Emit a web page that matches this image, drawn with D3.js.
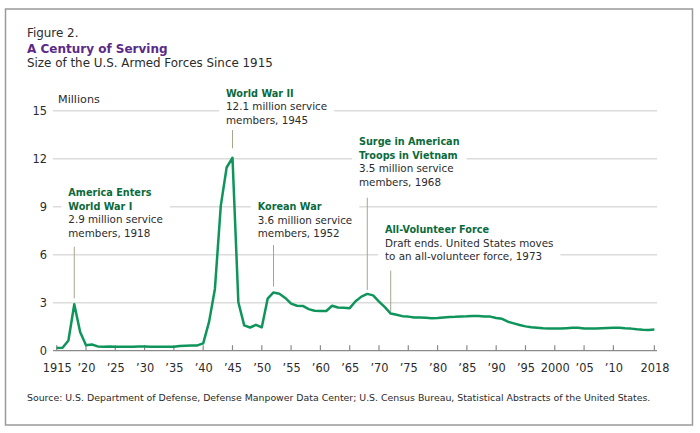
<!DOCTYPE html>
<html><head><meta charset="utf-8">
<script src="https://cdn.jsdelivr.net/npm/d3@7"></script>
<style>
body{margin:0;background:#fff}
svg{display:block}
text{font-family:"DejaVu Sans",sans-serif}
</style>
</head><body>
<svg id="c" width="700" height="433"></svg>
<script>
// ---------- DATA ----------
const years = d3.range(1915, 2017).concat([2018]);
const forces = [
 0.17,0.18,0.64,2.90,1.17,0.34,0.39,0.27,0.25,0.26,
 0.25,0.25,0.25,0.25,0.26,0.26,0.25,0.25,0.24,0.25,
 0.25,0.29,0.31,0.32,0.33,0.46,1.80,3.86,9.05,11.45,
 12.06,3.03,1.58,1.45,1.62,1.46,3.25,3.64,3.56,3.30,
 2.94,2.81,2.80,2.60,2.50,2.48,2.48,2.81,2.70,2.69,
 2.66,3.09,3.38,3.55,3.46,3.07,2.72,2.32,2.25,2.16,
 2.13,2.08,2.07,2.06,2.03,2.05,2.08,2.11,2.12,2.14,
 2.15,2.17,2.17,2.14,2.13,2.04,1.99,1.81,1.71,1.61,
 1.52,1.47,1.44,1.41,1.39,1.38,1.39,1.41,1.43,1.43,
 1.39,1.38,1.38,1.40,1.42,1.43,1.43,1.40,1.38,1.34,
 1.31,1.30,1.32
];
const yTicks = [0, 3, 6, 9, 12, 15];
const xTickYears = [1915,1920,1925,1930,1935,1940,1945,1950,1955,1960,1965,1970,1975,1980,1985,1990,1995,2000,2005,2010,2018];
const xTickLabels = ["1915","\u201920","\u201925","\u201930","\u201935","\u201940","\u201945","\u201950","\u201955","\u201960","\u201965","\u201970","\u201975","\u201980","\u201985","\u201990","\u201995","2000","\u201905","\u201910","2018"];
const annoTitles = [["America Enters","World War I"],["World War II"],["Korean War"],["Surge in American","Troops in Vietnam"],["All-Volunteer Force"]];
const annoBodies = [["2.9 million service","members, 1918"],["12.1 million service","members, 1945"],["3.6 million service","members, 1952"],["3.5 million service","members, 1968"],["Draft ends. United States moves","to an all-volunteer force, 1973"]];
const annoYears = [1918, 1945, 1952, 1968, 1972];

// ---------- LAYOUT ----------
const annoLayout = [
 {x:68.3, y:196,   top:246.7, bottom:298.3},
 {x:226,  y:96.7,  top:130,   bottom:148.3},
 {x:257.7,y:210,   top:245,   bottom:286.7},
 {x:359,  y:145,   top:197.7, bottom:290},
 {x:385,  y:233.3, top:270.7, bottom:311.7}
];
const green = "#0f955b", darkGreen = "#0b6a3c", purple = "#5b2a88", txt = "#2b2b2b";

const svg = d3.select("#c");
svg.append("rect").attr("x",5.5).attr("y",9).attr("width",687).attr("height",416)
  .attr("fill","#fff").attr("stroke","#9a9a9a").attr("stroke-width",1.5);

const x = d3.scalePoint().domain(years).range([56.7, 654.4]);
const y = d3.scaleLinear().domain([0, 15]).range([350.7, 110.7]);

// titles
svg.append("text").attr("x",27).attr("y",36.7).attr("font-size",11.9).attr("fill",txt).text("Figure 2.");
svg.append("text").attr("x",27).attr("y",52.9).attr("font-size",12).attr("font-weight","bold").attr("fill",purple).text("A Century of Serving");
svg.append("text").attr("x",27).attr("y",66.7).attr("font-size",11.9).attr("fill",txt).text("Size of the U.S. Armed Forces Since 1915");

// grid
const grid = svg.append("g");
grid.selectAll("line").data(yTicks.filter(d=>d>0)).join("line")
  .attr("x1",53).attr("x2",657).attr("y1",d=>y(d)).attr("y2",d=>y(d))
  .attr("stroke","#dcdcdc").attr("stroke-width",1.5);

// y axis labels
const yAxis = d3.axisLeft(y).tickValues(yTicks).tickSize(0).tickPadding(0);
const gy = svg.append("g").attr("transform","translate(47,0)").call(yAxis);
gy.select(".domain").remove();
gy.selectAll("text").attr("font-size",11.4).attr("fill",txt).attr("font-family",null);
svg.append("text").attr("x",58).attr("y",102.5).attr("font-size",11.2).attr("fill",txt).text("Millions");

// x axis
const xAxis = d3.axisBottom(x).tickValues(xTickYears).tickSize(0).tickPadding(0)
  .tickFormat((d,i)=>xTickLabels[i]);
const gx = svg.append("g").attr("transform",`translate(0,${y(0)})`).call(xAxis);
gx.select(".domain").remove();
gx.selectAll("text").attr("font-size",11.4).attr("fill",txt).attr("dy",null).attr("y",21).attr("font-family",null);
svg.append("line").attr("x1",53).attr("x2",657).attr("y1",y(0)).attr("y2",y(0)).attr("stroke","#8a8a8a").attr("stroke-width",1.2);
svg.append("g").selectAll("line").data(xTickYears).join("line")
  .attr("x1",d=>x(d)).attr("x2",d=>x(d)).attr("y1",y(0)).attr("y2",y(0)-5.5)
  .attr("stroke","#8a8a8a").attr("stroke-width",1.2);

// annotations
const annoG = svg.append("g");
annoLayout.forEach((L,i)=>{
  const g = annoG.append("g");
  const bg = g.append("rect").attr("fill","#fff");
  const lines = annoTitles[i].map(t=>({t,b:true})).concat(annoBodies[i].map(t=>({t,b:false})));
  lines.forEach((ln,j)=>{
    g.append("text").attr("x",L.x).attr("y",L.y+j*13.55).attr("font-size",ln.b?9.7:10.35)
      .attr("font-weight",ln.b?"bold":"normal").attr("fill",ln.b?darkGreen:txt).text(ln.t);
  });
  const bb = g.node().getBBox();
  bg.attr("x",bb.x-7).attr("y",bb.y).attr("width",bb.width+14).attr("height",bb.height);
  svg.append("line").attr("x1",x(annoYears[i])).attr("x2",x(annoYears[i]))
    .attr("y1",L.top).attr("y2",L.bottom).attr("stroke","#a8a58c").attr("stroke-width",1);
});

// line
const line = d3.line().x((d,i)=>x(years[i])).y(d=>y(d));
svg.append("path").datum(forces).attr("d",line).attr("fill","none")
  .attr("stroke",green).attr("stroke-width",2.5).attr("stroke-linejoin","round");

// source
svg.append("text").attr("x",27).attr("y",400.5).attr("font-size",9.37).attr("fill",txt)
  .text("Source: U.S. Department of Defense, Defense Manpower Data Center; U.S. Census Bureau, Statistical Abstracts of the United States.");
</script>
</body></html>
